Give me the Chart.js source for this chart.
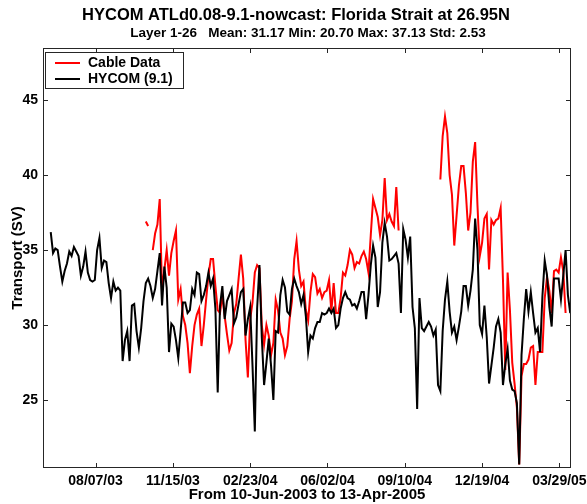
<!DOCTYPE html>
<html>
<head>
<meta charset="utf-8">
<script src="https://cdn.jsdelivr.net/npm/chart.js@4.4.1/dist/chart.umd.min.js"></script>
<style>
  html, body { margin: 0; padding: 0; background: #fff; }
</style>
</head>
<body>
<canvas id="transportChart" width="587" height="504"></canvas>
<script>
// days counted from 10-Jun-2003, one value every 3 days
const stepDays = 3;
const hycomStartDay = 0;
const hycom = [
  36.2, 34.8, 35.1, 35.0, 33.9, 32.9, 33.6, 34.1, 34.9, 34.6,
  35.2, 34.9, 34.6, 33.3, 33.9, 34.9, 33.5, 33.0, 32.9, 33.0,
  35.0, 35.8, 33.8, 34.3, 34.2, 32.8, 31.8, 32.9, 32.3, 32.5,
  32.3, 27.6, 29.0, 29.6, 27.6, 31.3, 31.4, 29.6, 28.5, 29.8,
  31.6, 32.8, 33.1, 32.6, 31.8, 32.4, 33.6, 34.8, 31.3, 33.9,
  32.5, 28.2, 30.1, 29.9, 29.0, 27.8, 29.6, 31.5, 31.5, 30.8,
  31.0, 32.4, 32.0, 33.5, 33.4, 31.6, 32.0, 32.6, 33.5, 32.6,
  33.1, 31.1, 25.5, 31.3, 32.6, 30.4, 31.6, 32.0, 32.4, 30.1,
  30.5, 31.4, 32.2, 32.4, 29.3, 30.4, 31.2, 27.3, 22.9, 31.1,
  34.0, 29.2, 26.0, 27.5, 29.1, 27.3, 25.0, 29.6, 29.5, 32.0,
  33.0, 32.5, 30.9, 30.7, 32.4, 33.1, 32.6, 32.2, 31.4, 32.0,
  30.6, 28.2, 29.3, 29.1, 29.8, 30.2, 30.2, 30.8, 30.7, 30.8,
  31.1, 30.8, 31.1, 29.8, 30.0, 31.1, 31.8, 32.2, 31.8, 31.7,
  31.3, 31.4, 31.1, 31.6, 32.2, 32.2, 30.4, 32.0, 34.0, 35.3,
  34.5, 31.2, 32.2, 35.5, 36.8, 35.9, 34.3, 34.4, 34.6, 34.8,
  34.1, 30.8, 36.4, 35.7, 34.5, 35.9, 31.2, 29.8, 24.4, 31.8,
  29.8, 29.6, 29.9, 30.2, 29.9, 29.3, 29.7, 26.0, 25.6, 29.6,
  31.7, 32.9, 30.9, 29.5, 29.9, 29.0, 29.9, 30.9, 32.6, 32.6,
  31.3, 32.3, 33.7, 37.1, 35.0, 30.0, 29.4, 31.3, 29.2, 26.1,
  27.3, 28.5, 29.9, 30.4, 29.5, 26.0, 27.4, 28.4, 26.3, 25.7,
  25.6, 24.8, 20.7, 28.0, 30.4, 32.4, 30.9, 32.2, 30.8, 29.5,
  29.8, 28.2, 31.9, 34.3, 33.3, 31.2, 29.9, 33.1, 33.1, 33.1,
  31.7, 33.3, 35.0, 32.0, 30.8
];
const cableStartDay = 123;
const cable = [
  36.9, 36.6, null, 35.0, 36.1, 36.7, 38.4, 32.2, 33.7,
  35.0, 33.3, 34.8, 35.6, 36.3, 31.7, 32.4, 30.6, 30.0, 28.8,
  26.8, 28.6, 30.0, 30.7, 31.1, 28.6, 30.0, 31.7, 33.3, 34.4,
  34.4, 32.6, 31.0, 30.8, 32.0, 30.6, 29.4, 28.3, 28.8, 30.8,
  31.4, 33.1, 34.7, 33.1, 29.0, 26.5, 30.4, 31.5, 33.5, 34.0,
  33.8, 30.0, 28.7, 30.0, 29.3, 28.0, 28.8, 31.7, 31.0, 29.5,
  29.1, 28.0, 28.6, 30.4, 31.6, 34.4, 35.6, 33.7, 32.6, 32.9,
  31.0, 30.3, 32.2, 33.4, 33.2, 32.1, 32.4, 31.8, 32.2, 32.3,
  33.0, 30.9, 32.8, 30.8, 30.8, 31.8, 33.5, 33.3, 34.0, 35.0,
  34.7, 33.8, 34.2, 34.1, 34.6, 34.9, 34.4, 33.5, 36.0, 38.4,
  37.8, 37.2, 36.0, 37.0, 39.8, 37.0, 37.4, 36.9, 36.6, 39.2,
  36.3, null, null, null, null, null, null, null, null, null,
  null, null, null, null, null, null, null, null,
  39.7, 42.6, 43.9, 42.8, 40.0, 38.7, 35.3, 37.3, 39.3, 40.6, 40.6, 38.8,
  36.3, 37.5, 40.9, 42.2, 38.0, 34.6, 35.5, 37.1, 37.4, 33.7,
  37.0, 36.7, 37.0, 37.1, 37.8, 33.0, 27.0, 33.5, 31.0, 27.5,
  26.1, 24.5, 20.7, 26.6, 27.4, 27.4, 27.7, 28.5, 28.6, 26.0,
  28.2, 28.2, 28.2, 31.8, 33.2, 32.3, 30.8, 33.6, 33.7, 33.5,
  34.5, 33.6, 30.8
];

const yTicks = [25, 30, 35, 40, 45];
const xTickDays = [58, 158, 258, 358, 458, 558, 658];
const xTickLabels = ['08/07/03', '11/15/03', '02/23/04', '06/02/04', '09/10/04', '12/19/04', '03/29/05'];

const titleText = 'HYCOM ATLd0.08-9.1-nowcast: Florida Strait at 26.95N';
const subtitleText = 'Layer 1-26   Mean: 31.17 Min: 20.70 Max: 37.13 Std: 2.53';

const FONT = '"Liberation Sans", Arial, Helvetica, sans-serif';

function toPoints(startDay, values) {
  return values.map((v, i) => ({ x: startDay + i * stepDays, y: v }));
}

// two-line title, centred over the axes like matlab does it
const titlePlugin = {
  id: 'matlabTitle',
  afterDraw(chart) {
    const { ctx, chartArea: a } = chart;
    const cx = (a.left + a.right) / 2;
    ctx.save();
    ctx.fillStyle = '#000';
    ctx.textAlign = 'center';
    ctx.textBaseline = 'middle';
    ctx.font = 'bold 16.5px ' + FONT;
    ctx.fillText(titleText, cx - 11, 15);
    ctx.font = 'bold 13.5px ' + FONT;
    ctx.fillText(subtitleText, cx + 1, 33.5);
    ctx.restore();
  }
};

// box with inward ticks on all four sides, plus the legend box
const framePlugin = {
  id: 'matlabFrame',
  afterDatasetsDraw(chart) {
    const { ctx, chartArea: a, scales: { x, y } } = chart;
    ctx.save();
    ctx.strokeStyle = '#262626';
    ctx.lineWidth = 1;
    ctx.strokeRect(a.left + 0.5, a.top + 0.5, a.width - 1, a.height - 1);
    ctx.beginPath();
    x.ticks.forEach(t => {
      const px = Math.round(x.getPixelForValue(t.value)) + 0.5;
      ctx.moveTo(px, a.bottom); ctx.lineTo(px, a.bottom - 5);
      ctx.moveTo(px, a.top); ctx.lineTo(px, a.top + 5);
    });
    y.ticks.forEach(t => {
      const py = Math.round(y.getPixelForValue(t.value)) + 0.5;
      ctx.moveTo(a.left, py); ctx.lineTo(a.left + 5, py);
      ctx.moveTo(a.right, py); ctx.lineTo(a.right - 5, py);
    });
    ctx.stroke();

    // legend
    const lx = a.left + 2, ly = a.top + 4, lw = 138, lh = 36;
    ctx.fillStyle = '#fff';
    ctx.fillRect(lx, ly, lw, lh);
    ctx.strokeRect(lx + 0.5, ly + 0.5, lw, lh);
    ctx.font = 'bold 14px ' + FONT;
    ctx.textBaseline = 'middle';
    ctx.textAlign = 'left';
    chart.data.datasets.forEach((ds, i) => {
      const rowY = ly + 11 + i * 16;
      ctx.strokeStyle = ds.borderColor;
      ctx.lineWidth = 2;
      ctx.beginPath();
      ctx.moveTo(lx + 10, rowY); ctx.lineTo(lx + 35, rowY);
      ctx.stroke();
      ctx.fillStyle = '#000';
      ctx.fillText(ds.label, lx + 43, rowY);
    });
    ctx.restore();
  }
};

new Chart(document.getElementById('transportChart'), {
  type: 'line',
  data: {
    datasets: [
      {
        label: 'Cable Data',
        data: toPoints(cableStartDay, cable),
        borderColor: '#ff0000',
        borderWidth: 2,
        pointRadius: 0,
        tension: 0,
        order: 1
      },
      {
        label: 'HYCOM (9.1)',
        data: toPoints(hycomStartDay, hycom),
        borderColor: '#000000',
        borderWidth: 2,
        pointRadius: 0,
        tension: 0,
        order: 0
      }
    ]
  },
  options: {
    responsive: false,
    animation: false,
    layout: { padding: { left: 0, right: 16, top: 48, bottom: 0 } },
    plugins: {
      legend: { display: false },
      tooltip: { enabled: false }
    },
    scales: {
      x: {
        type: 'linear',
        min: -10,
        max: 673,
        grid: { display: false, drawTicks: false },
        border: { display: false },
        afterBuildTicks: s => { s.ticks = xTickDays.map(v => ({ value: v })); },
        afterFit: s => { s.height = 36; s.paddingLeft = 0; s.paddingRight = 0; },
        ticks: {
          callback: (v, i) => xTickLabels[i],
          color: '#000',
          font: { family: FONT, size: 14, weight: 'bold' },
          padding: 5,
          maxRotation: 0,
          autoSkip: false
        },
        title: {
          display: true,
          text: 'From 10-Jun-2003 to 13-Apr-2005',
          color: '#000',
          font: { family: FONT, size: 15, weight: 'bold' },
          padding: { top: 0, bottom: 0 }
        }
      },
      y: {
        min: 20.47,
        max: 48.47,
        grid: { display: false, drawTicks: false },
        border: { display: false },
        afterBuildTicks: s => { s.ticks = yTicks.map(v => ({ value: v })); },
        afterFit: s => { s.width = 43; s.paddingTop = 0; s.paddingBottom = 0; },
        ticks: {
          color: '#000',
          font: { family: FONT, size: 14, weight: 'bold' },
          padding: 5
        },
        title: {
          display: true,
          text: 'Transport (SV)',
          color: '#000',
          font: { family: FONT, size: 15, weight: 'bold' },
          padding: { top: 9, bottom: 0 }
        }
      }
    }
  },
  plugins: [framePlugin, titlePlugin]
});
</script>
</body>
</html>
